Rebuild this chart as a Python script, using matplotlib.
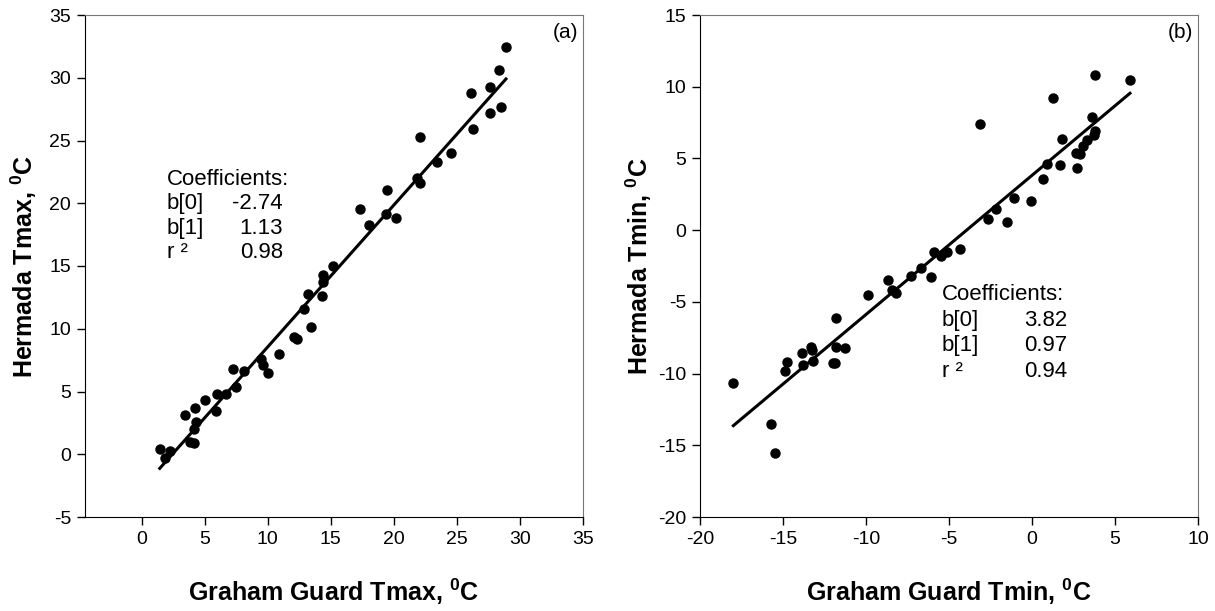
import numpy as np
import matplotlib.pyplot as plt

plt.rcParams['font.family'] = ['Liberation Sans', 'DejaVu Sans']
plt.rcParams['mathtext.fontset'] = 'custom'
plt.rcParams['mathtext.rm'] = 'Liberation Sans'
plt.rcParams['mathtext.bf'] = 'Liberation Sans:bold'
plt.rcParams['axes.unicode_minus'] = False

# (a) Tmax: Graham Guard vs Hermada
tmax_gg = [1.43, 2.28, 1.88, 3.44, 4.26, 5.0, 4.33, 4.15, 3.81, 4.13, 5.98, 6.72,
           5.93, 7.44, 7.25, 8.15, 9.47, 9.58, 9.98, 10.9, 12.09, 12.33, 13.39, 12.88,
           14.31, 13.15, 14.34, 14.39, 15.18, 18.02, 20.16, 19.37, 17.3, 19.42, 22.09,
           21.8, 23.41, 24.5, 22.06, 26.29, 27.6, 28.49, 26.09, 27.62, 28.31, 28.89]
tmax_he = [0.39, 0.28, -0.27, 3.13, 3.71, 4.30, 2.59, 2.04, 1.0, 0.87, 4.80, 4.80,
           3.45, 5.38, 6.77, 6.66, 7.59, 7.14, 6.50, 7.99, 9.37, 9.21, 10.14, 11.55,
           12.61, 12.77, 13.70, 14.26, 15.0, 18.29, 18.85, 19.14, 19.52, 21.06, 21.59,
           22.04, 23.31, 24.03, 25.25, 25.92, 27.17, 27.65, 28.81, 29.26, 30.62, 32.43]
coef_a = [-2.74, 1.13, 0.98]

# (b) Tmin: Graham Guard vs Hermada
tmin_gg = [-17.99, -15.72, -15.5, -14.88, -14.74, -13.78, -13.84, -13.31, -13.27, -13.21,
           -12.01, -11.87, -11.81, -11.28, -11.83, -9.86, -8.69, -8.45, -8.19, -7.31,
           -6.7, -6.1, -5.92, -5.48, -5.1, -4.34, -2.67, -2.17, -1.52, -1.07, -0.06,
           -3.13, 1.28, 1.81, 2.65, 1.69, 2.73, 0.89, 0.68,
           3.8, 5.9, 3.6, 3.8, 3.75, 3.3, 3.1, 2.9]
tmin_he = [-10.69, -13.54, -15.56, -9.83, -9.19, -9.37, -8.58, -8.14, -8.37, -9.12,
           -9.23, -9.23, -8.14, -8.23, -6.14, -4.49, -3.45, -4.14, -4.38, -3.22,
           -2.61, -3.29, -1.55, -1.82, -1.52, -1.34, 0.80, 1.50, 0.56, 2.26, 2.03,
           7.39, 9.2, 6.32, 5.37, 4.53, 4.30, 4.60, 3.56,
           10.8, 10.5, 7.9, 6.9, 6.6, 6.3, 5.9, 5.3]
coef_b = [3.82, 0.97, 0.94]

fig = plt.figure(figsize=(12.15, 6.11), dpi=100)
ax1 = fig.add_axes([85 / 1215, 94 / 611, 498 / 1215, 502 / 611])
ax2 = fig.add_axes([700 / 1215, 94 / 611, 498 / 1215, 502 / 611])


def style(ax, xlim, ylim, xticks, yticks, xlabel, ylabel, tag):
    ax.set_xlim(*xlim)
    ax.set_ylim(*ylim)
    ax.set_xticks(xticks)
    ax.set_yticks(yticks)
    ax.tick_params(direction='out', length=6, width=1, labelsize=14, pad=4,
                   top=False, right=False)
    for s in ['left', 'bottom']:
        ax.spines[s].set_color('black')
    for s in ['top', 'right']:
        ax.spines[s].set_color('#777777')
    ax.set_xlabel(xlabel, fontsize=18, fontweight='bold')
    ax.set_ylabel(ylabel, fontsize=18, fontweight='bold')
    ax.xaxis.set_label_coords(0.5, -0.118)
    ax.yaxis.set_label_coords(-0.092, 0.5)
    ax.text(0.99, 0.985, tag, transform=ax.transAxes, ha='right', va='top', fontsize=15)


def coef_text(ax, x0, x1, y0, dy, coef):
    ax.text(x0, y0, 'Coefficients:', fontsize=16, va='center')
    names = ['b[0]', 'b[1]', 'r \u00b2']
    for i, (n, v) in enumerate(zip(names, coef)):
        yy = y0 - (i + 1) * dy
        ax.text(x0, yy, n, fontsize=16, va='center')
        ax.text(x1, yy, f'{v:.2f}', fontsize=16, va='center', ha='right')


# panel (a)
ax1.plot(tmax_gg, tmax_he, 'o', color='black', ms=6.5, zorder=3)
xa = np.array([min(tmax_gg), max(tmax_gg)])
ax1.plot(xa, coef_a[0] + coef_a[1] * xa, color='black', lw=2.2)
style(ax1, (-4.5, 35), (-5, 35), range(0, 36, 5), range(-5, 36, 5),
      'Graham Guard Tmax, $^{\\mathbf{0}}$C', 'Hermada Tmax, $^{\\mathbf{0}}$C', '(a)')
coef_text(ax1, 2.0, 11.2, 21.9, 1.95, coef_a)

# panel (b)
ax2.plot(tmin_gg, tmin_he, 'o', color='black', ms=6.5, zorder=3)
xb = np.array([min(tmin_gg), max(tmin_gg)])
ax2.plot(xb, coef_b[0] + coef_b[1] * xb, color='black', lw=2.2)
style(ax2, (-20, 10), (-20, 15), range(-20, 11, 5), range(-20, 16, 5),
      'Graham Guard Tmin, $^{\\mathbf{0}}$C', 'Hermada Tmin, $^{\\mathbf{0}}$C', '(b)')
coef_text(ax2, -5.45, 2.15, -4.47, 1.8, coef_b)

fig.savefig('out.png', dpi=100)
